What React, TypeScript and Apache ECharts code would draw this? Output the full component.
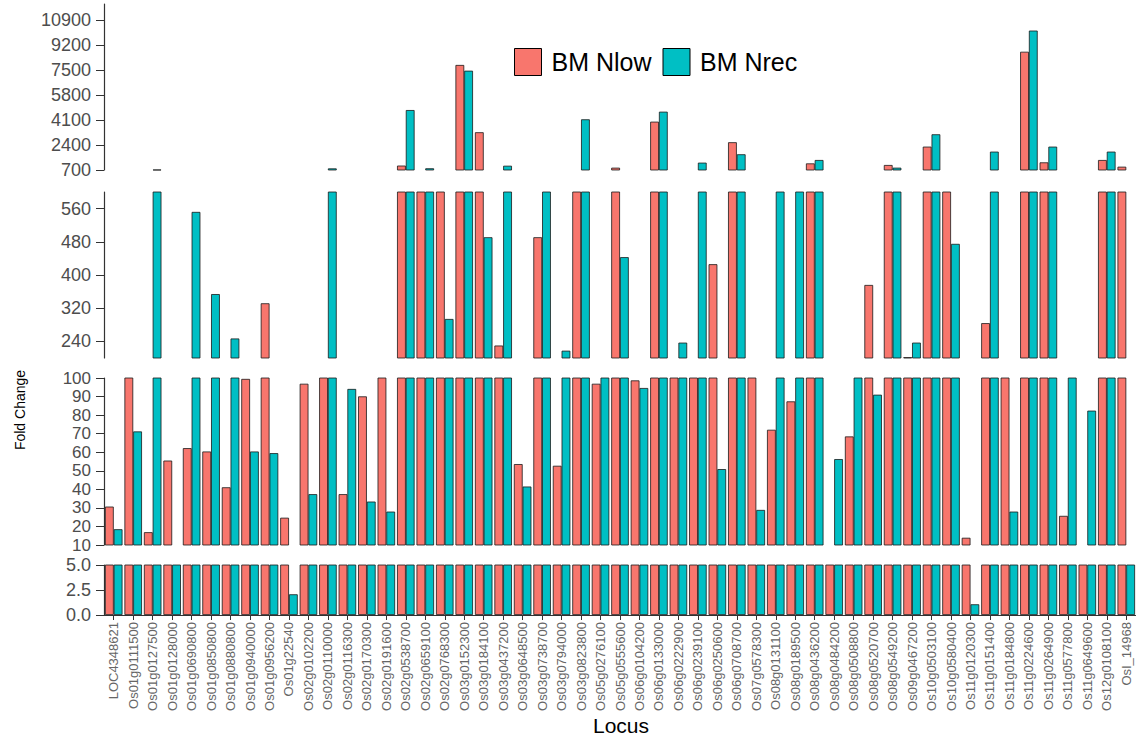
import React, { useEffect, useRef } from "react";
import * as echarts from "echarts";

const loci = [
  "LOC4348621", "Os01g0111500", "Os01g0127500", "Os01g0128000", "Os01g0690800",
  "Os01g0850800", "Os01g0880800", "Os01g0940000", "Os01g0956200", "Os01g22540",
  "Os02g0102200", "Os02g0110000", "Os02g0116300", "Os02g0170300", "Os02g0191600",
  "Os02g0538700", "Os02g0659100", "Os02g0768300", "Os03g0152300", "Os03g0184100",
  "Os03g0437200", "Os03g0648500", "Os03g0738700", "Os03g0794000", "Os03g0823800",
  "Os05g0276100", "Os05g0555600", "Os06g0104200", "Os06g0133000", "Os06g0222900",
  "Os06g0239100", "Os06g0250600", "Os06g0708700", "Os07g0578300", "Os08g0131100",
  "Os08g0189500", "Os08g0436200", "Os08g0484200", "Os08g0508800", "Os08g0520700",
  "Os08g0549200", "Os09g0467200", "Os10g0503100", "Os10g0580400", "Os11g0120300",
  "Os11g0151400", "Os11g0184800", "Os11g0224600", "Os11g0264900", "Os11g0577800",
  "Os11g0649600", "Os12g0108100", "OsI_14968",
];

const bmNlow = [
  30.7, 150, 16.9, 55.5, 62.2, 60.4, 41.1, 99.5, 331.8, 24.7,
  96.9, 150, 37.4, 90.1, 150, 1000, 720, 715, 7850, 3270,
  230, 53.6, 491, 52.7, 710, 96.9, 857, 98.7, 3990, 150,
  150, 426, 2590, 150, 72.1, 87.4, 1150, 7, 68.5, 376,
  1040, 202, 2290, 705, 13.9, 284, 150, 8750, 1220, 25.7,
  7, 1380, 925,
];

const bmNrec = [
  18.5, 71.2, 730, 7, 552, 354, 247, 60.4, 59.5, 2.07,
  37.4, 810, 94.1, 33.4, 28, 4780, 816, 294, 7460, 491,
  990, 41.5, 720, 217.6, 4150, 150, 443, 94.6, 4670, 237,
  1200, 50.9, 1770, 28.9, 720, 720, 1380, 56.3, 150, 91,
  857, 237, 3130, 475, 1.07, 1950, 28, 10190, 2290, 150,
  82.4, 1950, 7,
];

const ticksTop = [700, 2400, 4100, 5800, 7500, 9200, 10900];
const ticksUpper = [240, 320, 400, 480, 560];
const ticksMiddle = [10, 20, 30, 40, 50, 60, 70, 80, 90, 100];
const ticksBottom = [0, 2.5, 5];

const FONT = "'Liberation Sans', Arial, sans-serif";

const panels = [
  { top: 4, height: 166, min: 700, max: 12000, ticks: ticksTop, size: 18, fmt: (v: number) => String(v) },
  { top: 192, height: 166, min: 200, max: 600, ticks: ticksUpper, size: 18, fmt: (v: number) => String(v) },
  { top: 378, height: 167, min: 10, max: 100, ticks: ticksMiddle, size: 17, fmt: (v: number) => String(v) },
  { top: 565, height: 50, min: 0, max: 5, ticks: ticksBottom, size: 18, fmt: (v: number) => v.toFixed(1) },
];

export default function App() {
  const ref = useRef<HTMLDivElement>(null);
  useEffect(() => {
    if (!ref.current) return;
    const chart = echarts.init(ref.current, null, { renderer: "svg" });
    const last = panels.length - 1;
    chart.setOption({
      animation: false,
      backgroundColor: "#ffffff",
      textStyle: { fontFamily: FONT },
      legend: {
        left: 509,
        top: 43,
        itemWidth: 27,
        itemHeight: 27,
        itemGap: 11,
        icon: "rect",
        data: ["BM Nlow", "BM Nrec"],
        itemStyle: { borderColor: "#000", borderWidth: 1 },
        textStyle: { fontSize: 25, color: "#000", fontFamily: FONT, padding: [0, 0, 0, 5] },
      },
      grid: panels.map((p) => ({ left: 104, width: 1034, top: p.top, height: p.height })),
      xAxis: panels.map((p, i) => ({
        type: "category",
        gridIndex: i,
        data: loci,
        show: i === last,
        boundaryGap: true,
        axisLine: { show: true, onZero: false, lineStyle: { color: "#333", width: 1.2 } },
        axisTick: { show: true, alignWithLabel: true, length: 5, lineStyle: { color: "#333" } },
        axisLabel: { interval: 0, rotate: 90, fontSize: 13, color: "#666", margin: 7, fontFamily: FONT },
      })),
      yAxis: panels.map((p, i) => ({
        type: "value",
        gridIndex: i,
        min: p.min,
        max: p.max,
        splitLine: { show: false },
        axisLine: { show: true, lineStyle: { color: "#333", width: 1.2 } },
        axisTick: { show: true, length: 8, customValues: p.ticks, lineStyle: { color: "#333" } },
        axisLabel: {
          customValues: p.ticks,
          showMinLabel: true,
          showMaxLabel: true,
          hideOverlap: false,
          fontSize: p.size,
          lineHeight: p.size,
          color: "#4d4d4d",
          margin: 13,
          fontFamily: FONT,
          formatter: (v: number) => p.fmt(v),
        },
      })),
      series: panels.flatMap((p, i) => [
        {
          type: "bar",
          name: "BM Nlow",
          xAxisIndex: i,
          yAxisIndex: i,
          data: bmNlow.map((v) => (v > p.min ? v : "-")),
          barGap: "0%",
          barCategoryGap: "10%",
          clip: true,
          itemStyle: { color: "#F8766D", borderColor: "#1a1a1a", borderWidth: 0.8 },
        },
        {
          type: "bar",
          name: "BM Nrec",
          xAxisIndex: i,
          yAxisIndex: i,
          data: bmNrec.map((v) => (v > p.min ? v : "-")),
          barGap: "0%",
          barCategoryGap: "10%",
          clip: true,
          itemStyle: { color: "#00BFC4", borderColor: "#1a1a1a", borderWidth: 0.8 },
        },
      ]),
      graphic: [
        {
          type: "text",
          x: 20,
          y: 410,
          rotation: Math.PI / 2,
          style: { text: "Fold Change", fontSize: 14, fill: "#000", align: "center", verticalAlign: "middle", fontFamily: FONT },
        },
        {
          type: "text",
          x: 621,
          y: 725,
          style: { text: "Locus", fontSize: 21, fill: "#000", align: "center", verticalAlign: "middle", fontFamily: FONT },
        },
      ],
    });
    return () => chart.dispose();
  }, []);
  return (
    <div
      ref={ref}
      style={{ position: "absolute", left: 0, top: 0, width: 1136, height: 740 }}
    />
  );
}
